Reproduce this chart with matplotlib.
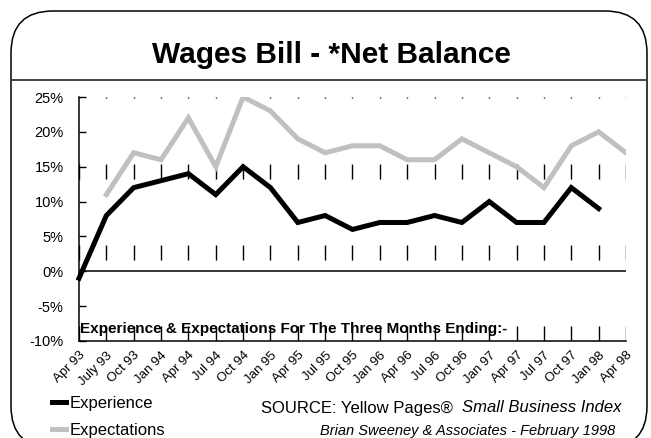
import matplotlib
matplotlib.use("Agg")
import matplotlib.pyplot as plt
from matplotlib.patches import FancyBboxPatch

# Wages Bill - net balance, three months ending
quarters = ["Apr 93", "July 93", "Oct 93", "Jan 94", "Apr 94", "Jul 94", "Oct 94",
            "Jan 95", "Apr 95", "Jul 95", "Oct 95", "Jan 96", "Apr 96", "Jul 96",
            "Oct 96", "Jan 97", "Apr 97", "Jul 97", "Oct 97", "Jan 98", "Apr 98"]
experience = [-1, 8, 12, 13, 14, 11, 15, 12, 7, 8, 6, 7, 7, 8, 7, 10, 7, 7, 12, 9]
expectations = [11, 17, 16, 22, 15, 25, 23, 19, 17, 18, 18, 16, 16, 19, 17, 15, 12, 18, 20, 17]
yticks = [-10, -5, 0, 5, 10, 15, 20, 25]

plt.rcParams["font.family"] = ["Liberation Sans", "DejaVu Sans"]

W, H = 651, 438
fig = plt.figure(figsize=(W / 100, H / 100), dpi=100)

# background frame in pixel units
bg = fig.add_axes([0, 0, 1, 1], zorder=0)
bg.set_xlim(0, W)
bg.set_ylim(H, 0)
bg.axis("off")
bg.add_patch(FancyBboxPatch((11, 11), 636, 437,
                            boxstyle="round,pad=0,rounding_size=42",
                            fc="white", ec="black", lw=1.1))
bg.plot([11, 647], [80, 80], color="#444444", lw=1.4)
bg.text(331, 63, "Wages Bill - *Net Balance", ha="center", va="baseline",
        fontsize=21.5, fontweight="bold")

ax = fig.add_axes([79 / W, 1 - 341 / H, 547 / W, 244 / H], zorder=1)
ax.patch.set_alpha(0)

x_exp = list(range(len(experience)))
x_fut = list(range(1, len(expectations) + 1))
l1, = ax.plot(x_exp, experience, color="black", lw=3.6, solid_joinstyle="miter",
              label="Experience", zorder=3, clip_on=False)
l2, = ax.plot(x_fut, expectations, color="#c0c0c0", lw=3.6, solid_joinstyle="miter",
              label="Expectations", zorder=2)

ax.axhline(0, color="black", lw=1.1, zorder=1)
ax.set_xlim(0, len(quarters) - 1)
ax.set_ylim(-10, 25)

ax.set_xticks(range(len(quarters)))
ax.set_xticklabels(quarters, rotation=45, ha="right", rotation_mode="anchor",
                   fontsize=9.5)
ax.tick_params(axis="x", length=0, pad=6)
ax.xaxis.grid(True, color="black", lw=1.0, linestyle=(0, (10.8, 47.5)))

ax.set_yticks(yticks)
ax.set_yticklabels([f"{v}%" for v in yticks], fontsize=10.5)
ax.tick_params(axis="y", direction="in", length=5, width=1, pad=11)

for side in ["top", "right"]:
    ax.spines[side].set_visible(False)
for side in ["left", "bottom"]:
    ax.spines[side].set_linewidth(1.1)

ax.text(0.05, -8.3, "Experience & Expectations For The Three Months Ending:-",
        fontsize=11, fontweight="bold", va="center", ha="left")

fig.legend(handles=[l1, l2], loc="upper left", bbox_to_anchor=(52 / W, 1 - 396 / H),
           frameon=False, fontsize=12, handlelength=0.85, handletextpad=0.2,
           labelspacing=0.72, borderpad=0, borderaxespad=0)

fig.text(261 / W, 1 - 408 / H, "SOURCE: Yellow Pages®", fontsize=12,
         ha="left", va="center")
fig.text(621 / W, 1 - 408 / H, "Small Business Index", fontsize=12,
         style="italic", ha="right", va="center")
fig.text(615 / W, 1 - 431 / H, "Brian Sweeney & Associates - February 1998",
         fontsize=10.5, style="italic", ha="right", va="center")

fig.savefig("out.png", dpi=100)
